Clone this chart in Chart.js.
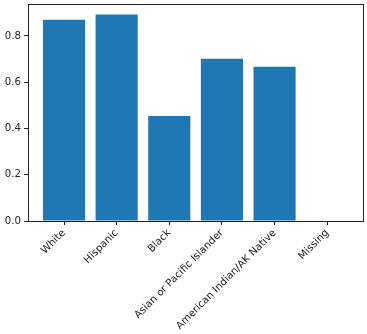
<!DOCTYPE html>
<html lang="en">
<head>
    <meta charset="UTF-8">
    <title>Bar chart</title>
    <style>
        body { background: #fff; margin: 0; }
        #wrap { width: 367px; height: 334px; }
    </style>
</head>
<body>
    <div id="wrap"><canvas id="barChart"></canvas></div>
    <script src="https://cdn.jsdelivr.net/npm/chart.js"></script>
    <script>
        const categories = ["White", "Hispanic", "Black", "Asian or Pacific Islander", "American Indian/AK Native", "Missing"];
        const values = [0.870, 0.893, 0.454, 0.701, 0.667, 0];
        const yTicks = [0.0, 0.2, 0.4, 0.6, 0.8];

        // box around the plot area like matplotlib
        const frame = {
            id: 'frame',
            afterDraw(chart) {
                const a = chart.chartArea, c = chart.ctx;
                c.save();
                c.strokeStyle = '#222';
                c.lineWidth = 1;
                c.strokeRect(Math.round(a.left) + 0.5, Math.round(a.top) + 0.5, Math.round(a.right - a.left), Math.round(a.bottom - a.top));
                c.restore();
            }
        };

        const font = { family: "'DejaVu Sans', sans-serif", size: 10.2 };

        new Chart(document.getElementById("barChart"), {
            type: 'bar',
            data: {
                datasets: [{
                    data: values.map((v, i) => ({ x: i, y: v })),
                    backgroundColor: '#1f77b4',
                    borderWidth: 0,
                    barPercentage: 0.8,
                    categoryPercentage: 1.0
                }]
            },
            options: {
                responsive: true,
                maintainAspectRatio: false,
                animation: false,
                layout: { padding: { top: 4, right: 4, left: 0, bottom: 0 } },
                plugins: { legend: { display: false }, tooltip: { enabled: false } },
                scales: {
                    x: {
                        type: 'linear',
                        offset: false,
                        min: -0.684,
                        max: 5.68,
                        afterBuildTicks: s => { s.ticks = categories.map((c, i) => ({ value: i })); },
                        afterFit: s => { s.height = 113; s.paddingLeft = 0; s.paddingRight = 0; },
                        grid: { offset: false, drawOnChartArea: false, drawTicks: true, tickLength: 4, color: '#222' },
                        border: { display: false },
                        ticks: {
                            autoSkip: false,
                            minRotation: 45,
                            maxRotation: 45,
                            padding: 2,
                            color: '#222',
                            font: font,
                            callback: v => categories[v]
                        }
                    },
                    y: {
                        min: 0,
                        max: 0.938,
                        afterBuildTicks: s => { s.ticks = yTicks.map(v => ({ value: v })); },
                        afterFit: s => { s.width = 28; s.paddingTop = 0; s.paddingBottom = 0; },
                        grid: { drawOnChartArea: false, drawTicks: true, tickLength: 4, color: '#222' },
                        border: { display: false },
                        ticks: {
                            padding: 3,
                            color: '#222',
                            font: font,
                            callback: v => v.toFixed(1)
                        }
                    }
                }
            },
            plugins: [frame]
        });
    </script>
</body>
</html>
